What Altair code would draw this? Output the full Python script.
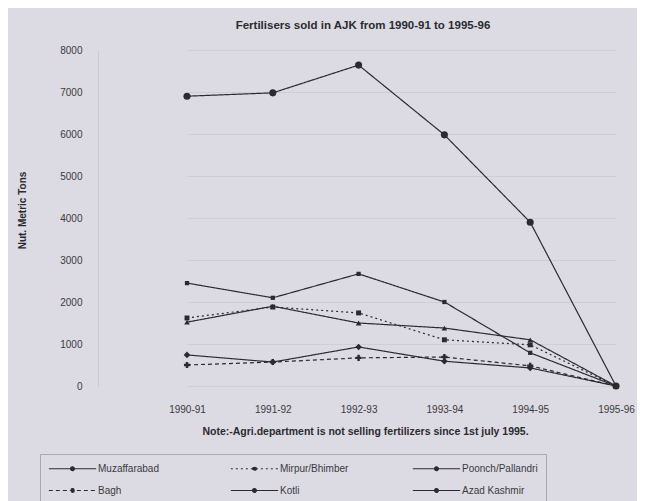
import altair as alt
import pandas as pd

periods = ["1990-91", "1991-92", "1992-93", "1993-94", "1994-95", "1995-96"]
series_names = ["Muzaffarabad", "Mirpur/Bhimber", "Poonch/Pallandri", "Bagh", "Kotli", "Azad Kashmir"]
muzaffarabad = [2450, 2100, 2670, 2000, 790, 0]
mirpur_bhimber = [1620, 1880, 1740, 1100, 980, 0]
poonch_pallandri = [1520, 1900, 1500, 1380, 1100, 0]
bagh = [500, 570, 670, 690, 480, 0]
kotli = [740, 570, 930, 590, 430, 0]
azad_kashmir = [6900, 6980, 7640, 5980, 3900, 0]

values = [muzaffarabad, mirpur_bhimber, poonch_pallandri, bagh, kotli, azad_kashmir]
marker_ids = ["m" + str(i) for i in range(len(series_names))]
rows = []
for name, mid, vals in zip(series_names, marker_ids, values):
    for p, v in zip(periods, vals):
        rows.append({"Period": p, "Series": name, "Marker": mid, "Tons": v})
df = pd.DataFrame(rows)

ink = "#2b2b2f"
bg = "#dcdae3"

x_enc = alt.X("Period:O", sort=periods,
              scale=alt.Scale(type="point", range=[89, 518], padding=0),
              axis=alt.Axis(title="Note:-Agri.department is not selling fertilizers since 1st july 1995.",
                            labelAngle=0, labelFontSize=10, labelColor="#3a3a3e", labelPadding=18,
                            ticks=False, domain=False, grid=False,
                            titleFontSize=10.5, titleFontWeight="bold", titleColor="#2b2b2f",
                            titlePadding=12, titleX=267))
y_enc = alt.Y("Tons:Q", scale=alt.Scale(domain=[0, 8000]),
              axis=alt.Axis(title="Nut. Metric Tons", values=list(range(0, 8001, 1000)), format="d",
                            labelFontSize=10, labelColor="#3a3a3e", labelPadding=16,
                            ticks=False, domainColor="#cbc9d2", gridColor="#cfcdd6",
                            titleFontSize=10, titleFontWeight="bold", titleColor="#2b2b2f",
                            titleX=-76, titleY=160, titleAngle=-90, titleAlign="center",
                            titleBaseline="middle"))

legend_symbol = "M-4.3,0H4.3M0.35,0A0.35,0.35,0,1,1,-0.35,0A0.35,0.35,0,1,1,0.35,0Z"

lines = alt.Chart(df).mark_line(strokeWidth=1.2, clip=False, color=ink).encode(
    x=x_enc, y=y_enc,
    detail="Series:N",
    strokeDash=alt.StrokeDash("Series:N", sort=series_names,
                              scale=alt.Scale(domain=series_names,
                                              range=[[1, 0], [2, 3], [1, 0], [4, 3], [1, 0], [1, 0]]),
                              legend=alt.Legend(title=None, orient="none", legendX=-58, legendY=404,
                                                columns=3, direction="horizontal",
                                                symbolType=legend_symbol, symbolSize=121,
                                                symbolStrokeColor=ink, symbolFillColor=ink,
                                                symbolStrokeWidth=1.1, symbolOffset=18,
                                                labelOffset=19, labelFontSize=10, labelColor="#3a3a3e",
                                                columnPadding=54, rowPadding=10, gridAlign="all",
                                                strokeColor="#a9a7b0", padding=8)),
)

points = alt.Chart(df).mark_point(filled=True, opacity=1, clip=False, color=ink).encode(
    x=x_enc, y=y_enc,
    shape=alt.Shape("Marker:N", scale=alt.Scale(domain=marker_ids,
                                                range=["square", "square", "triangle-up", "cross", "diamond", "circle"]),
                    legend=None),
    size=alt.Size("Marker:N", scale=alt.Scale(domain=marker_ids, range=[18, 50, 35, 30, 30, 40]),
                  legend=None),
)

chart = alt.layer(lines, points).properties(
    width=530, height=336,
    title=alt.Title("Fertilisers sold in AJK from 1990-91 to 1995-96", fontSize=11.5,
                    fontWeight="bold", color="#2b2b2f", anchor="middle", offset=14),
    autosize=alt.AutoSizeParams(type="none"),
    padding={"left": 90, "top": 42, "right": 9, "bottom": 116},
    background=bg,
).configure_view(stroke=None).configure(font="Liberation Sans")

chart.save("out.html", embed_options={"renderer": "svg", "actions": False})
